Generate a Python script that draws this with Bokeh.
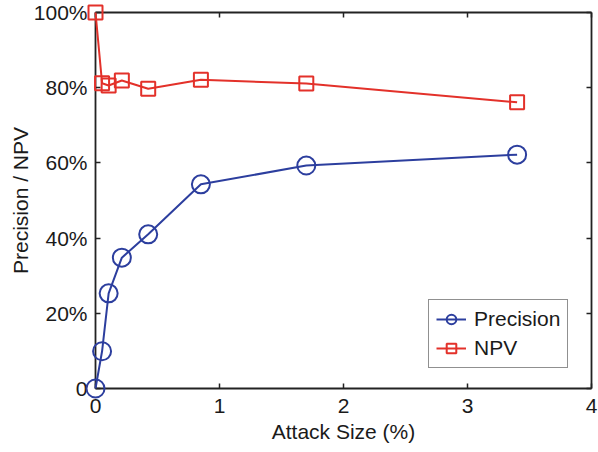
from bokeh.plotting import figure
from bokeh.models import (Range1d, LinearAxis, FixedTicker, Legend, LegendItem,
                          CustomJSTickFormatter)
from bokeh.embed import file_html
from bokeh.resources import INLINE

attack_size = [0, 0.053, 0.106, 0.2125, 0.425, 0.85, 1.7, 3.4]
precision = [0, 9.9, 25.3, 34.8, 41.0, 54.3, 59.3, 62.2]
npv = [100, 81.2, 80.6, 81.9, 79.7, 82.1, 81.1, 76.1]

x_ticks = [0, 1, 2, 3, 4]
y_ticks = [0, 20, 40, 60, 80, 100]
y_tick_labels = ["0", "20%", "40%", "60%", "80%", "100%"]
x_title = "Attack Size (%)"
y_title = "Precision / NPV"

BLUE = "#2c3e9e"
RED = "#e3312a"
FONT = "Liberation Sans"
FS = "21px"
TXT = "#1a1a1a"
AX = "#222222"

p = figure(width=598, height=452, output_backend="svg", toolbar_location=None,
           x_range=Range1d(0, 4), y_range=Range1d(0, 100),
           min_border_left=95, min_border_right=7, min_border_top=12, min_border_bottom=64)
p.grid.visible = False
p.outline_line_color = None
p.background_fill_color = "white"
p.border_fill_color = "white"

def style_axis(ax, ticks, show_labels):
    ax.ticker = FixedTicker(ticks=ticks)
    ax.axis_line_color = AX
    ax.axis_line_width = 1.8
    ax.major_tick_line_color = AX
    ax.major_tick_line_width = 1.5
    ax.major_tick_in = 5
    ax.major_tick_out = 0
    ax.minor_tick_line_color = None
    ax.major_label_text_font = FONT
    ax.major_label_text_color = TXT
    ax.axis_label_text_font = FONT
    ax.axis_label_text_font_style = "normal"
    ax.axis_label_text_color = TXT
    ax.axis_label_text_font_size = FS
    if show_labels:
        ax.major_label_text_font_size = FS
    else:
        ax.formatter = CustomJSTickFormatter(code="return ''")
        ax.major_label_text_font_size = "1px"
        ax.major_label_standoff = 0

xa = p.xaxis[0]
style_axis(xa, x_ticks, True)
xa.axis_label = x_title
xa.major_label_standoff = 10
xa.axis_label_standoff = 4

ya = p.yaxis[0]
style_axis(ya, y_ticks, True)
ya.axis_label = y_title
ya.major_label_overrides = {t: s for t, s in zip(y_ticks, y_tick_labels)}
ya.major_label_standoff = 8
ya.axis_label_standoff = -1

top = LinearAxis()
style_axis(top, x_ticks, False)
p.add_layout(top, "above")
right = LinearAxis()
style_axis(right, y_ticks, False)
p.add_layout(right, "right")

l1 = p.line(attack_size, precision, line_color=BLUE, line_width=2, level="overlay")
s1 = p.scatter(attack_size, precision, marker="circle", size=18, line_color=BLUE,
               line_width=2, fill_color=None, level="overlay")
l2 = p.line(attack_size, npv, line_color=RED, line_width=2, level="overlay")
s2 = p.scatter(attack_size, npv, marker="square", size=14, line_color=RED,
               line_width=2, fill_color=None, level="overlay")

legend = Legend(items=[LegendItem(label="Precision", renderers=[l1, s1]),
                       LegendItem(label="NPV", renderers=[l2, s2])],
                location=(333, 20))
legend.label_text_font = FONT
legend.label_text_font_size = FS
legend.label_text_color = TXT
legend.glyph_width = 30
legend.glyph_height = 24
legend.label_height = 24
legend.label_standoff = 8
legend.spacing = 5
legend.padding = 7
legend.margin = 0
legend.border_line_color = AX
legend.border_line_width = 1.2
legend.background_fill_color = "white"
legend.background_fill_alpha = 1
p.add_layout(legend, "center")

open("out.html", "w").write(file_html(p, INLINE))
